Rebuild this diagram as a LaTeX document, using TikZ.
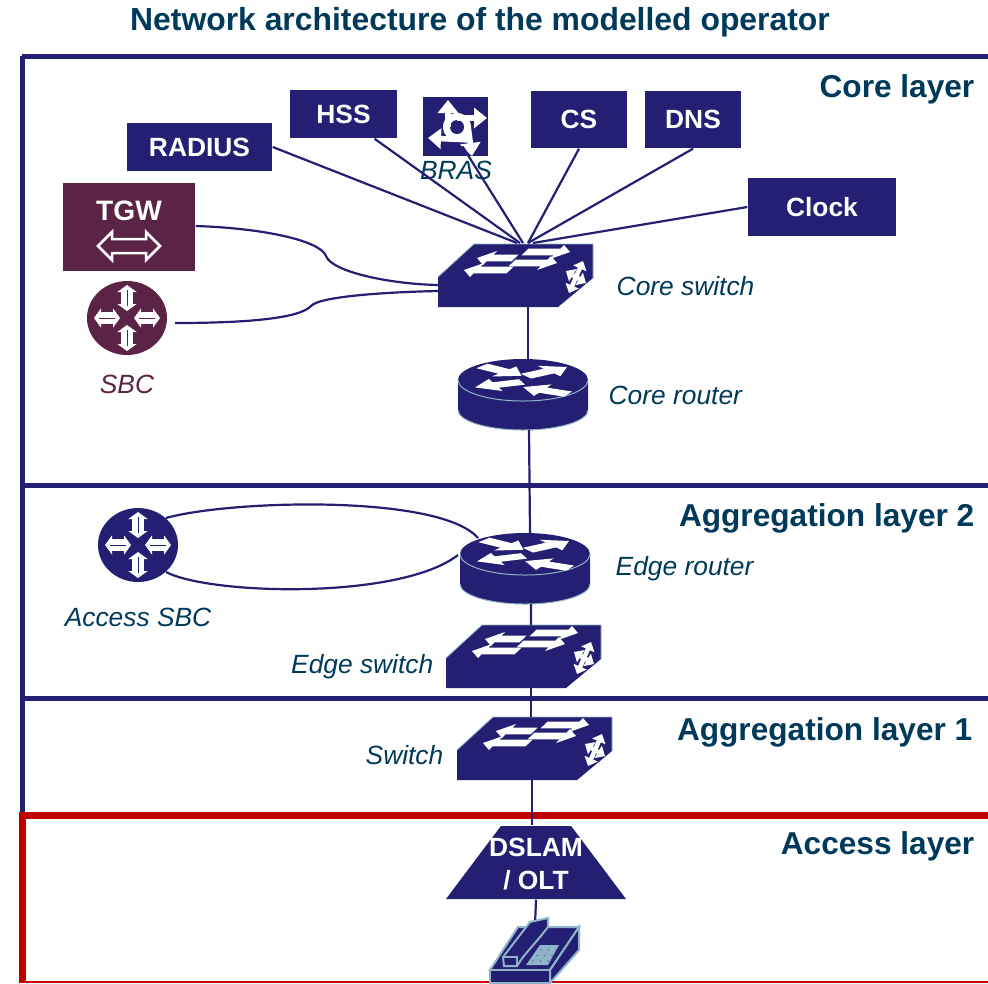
\documentclass[tikz,border=0pt]{standalone}
\usepackage{fontspec}
\setmainfont{Liberation Sans}
\usetikzlibrary{arrows.meta,shapes.geometric}
\definecolor{navydev}{HTML}{241F72}
\definecolor{plumdev}{HTML}{5B2346}
\definecolor{tealtext}{HTML}{003A5A}
\definecolor{redlayer}{HTML}{C00000}
\definecolor{paleedge}{HTML}{8FB3C8}
% slanted arrow on a switch top: tail x, tip x, y, direction
\newcommand{\flatarrow}[4]{
  \fill[white] ({#1-.035},{#3-.034}) -- ({#2-#4*.13-.035},{#3-.034}) -- ({#2-#4*.13-.07},{#3-.07}) -- (#2,#3)
    -- ({#2-#4*.13+.07},{#3+.07}) -- ({#2-#4*.13+.035},{#3+.034}) -- ({#1+.035},{#3+.034}) -- cycle;
}
\tikzset{
  wire/.style={navydev,line width=.022cm},
  layerline/.style={navydev,line width=.05cm},
  accessline/.style={redlayer,line width=.07cm},
  devbox/.style={fill=navydev,text=white,font=\fontsize{7.5}{9}\selectfont\bfseries,inner sep=0pt},
  layerlabel/.style={text=tealtext,anchor=east,font=\fontsize{9}{11}\selectfont\bfseries,inner sep=0pt},
  devlabel/.style={text=tealtext,font=\fontsize{7.5}{9}\selectfont\itshape,inner sep=0pt},
  flow/.style={white,line width=.055cm,-{Triangle[length=.13cm,width=.2cm]}},
  smallflow/.style={white,line width=.045cm,{Triangle[length=.08cm,width=.14cm]}-{Triangle[length=.08cm,width=.14cm]}},
  pics/switchicon/.style={code={
    \fill[navydev] (0,0) -- (1.20,0) -- (1.55,.29) -- (1.55,.63) -- (.36,.63) -- (0,.30) -- cycle;
    \draw[paleedge,line width=.008cm] (0,.30) -- (.36,.63) -- (1.55,.63) -- (1.55,.29);
    \flatarrow{.87}{1.32}{.55}{1}
    \flatarrow{.77}{.39}{.49}{-1}
    \flatarrow{.74}{1.19}{.44}{1}
    \flatarrow{.72}{.26}{.37}{-1}
    \draw[smallflow] (1.31,.14) -- (1.45,.46);
    \draw[smallflow] (1.28,.36) -- (1.48,.24);
    \coordinate (-top) at (#1,.63);
    \coordinate (-bot) at (#1,0);
    \coordinate (-wa) at (0,.22);
    \coordinate (-wb) at (0,.16);
  }},
  pics/routericon/.style={code={
    \fill[navydev] (-.65,0) -- (-.65,-.30) arc[start angle=180,end angle=360,x radius=.65,y radius=.20] -- (.65,0) -- cycle;
    \draw[paleedge,line width=.01cm] (-.65,-.30) arc[start angle=180,end angle=360,x radius=.65,y radius=.20];
    \fill[navydev] (0,0) ellipse[x radius=.65,y radius=.21];
    \draw[paleedge,line width=.01cm] (-.65,0) arc[start angle=180,end angle=360,x radius=.65,y radius=.21];
    \foreach \x/\y/\a in {.03/.12/35,-.41/.44/-38,-.01/-.06/200,.45/-.44/154}{
      \fill[white,yscale=.32,shift={(\x,\y)},rotate=\a] (0,-.09) -- (.28,-.09) -- (.28,-.20) -- (.50,0) -- (.28,.20) -- (.28,.09) -- (0,.09) -- cycle;
    }
    \coordinate (-top) at (.05,.21);
    \coordinate (-bot) at (.06,-.50);
    \coordinate (-nw) at (-.47,.16);
    \coordinate (-w) at (-.67,-.01);
  }},
  pics/sbcicon/.style={code={
    \fill[#1] (0,0) ellipse[x radius=.40,y radius=.37];
    \foreach \a in {0,90,180,270}{
      \draw[white,line width=.12cm,rotate=\a,{Triangle[length=.07cm,width=.19cm]}-{Triangle[length=.07cm,width=.19cm]}] (.07,0) -- (.33,0);
      \draw[#1,line width=.004cm,rotate=\a] (.12,0) -- (.28,0);
    }
    \coordinate (-east) at (.48,-.05);
    \coordinate (-ne) at (.28,.27);
    \coordinate (-se) at (.28,-.27);
  }},
}
\begin{document}
\begin{tikzpicture}
  \useasboundingbox (0,0) rectangle (9.88,9.83);

  % title
  \node[text=tealtext,font=\fontsize{9.07}{11}\selectfont\bfseries,inner sep=0pt] (title) at (4.80,9.61) {Network architecture of the modelled operator};

  % layer lines
  \draw[layerline] (.22,9.27) -- (9.88,9.27);
  \draw[layerline] (.22,9.27) -- (.22,1.68);
  \draw[layerline] (.22,4.98) -- (9.88,4.98);
  \draw[layerline] (.22,2.85) -- (9.88,2.85);
  \draw[accessline] (9.88,1.68) -- (.22,1.68) -- (.22,0);
  \draw[redlayer,line width=.02cm] (.22,.01) -- (9.88,.01);

  % layer labels
  \node[layerlabel] (corelabel) at (9.75,8.94) {Core layer};
  \node[layerlabel] (agglabelb) at (9.75,4.65) {Aggregation layer 2};
  \node[layerlabel] (agglabela) at (9.73,2.51) {Aggregation layer 1};
  \node[layerlabel] (accesslabel) at (9.75,1.37) {Access layer};

  % servers
  \node[devbox,minimum width=1.45cm,minimum height=.48cm] (radius) at (1.995,8.36) {RADIUS};
  \node[devbox,minimum width=1.07cm,minimum height=.48cm] (hss) at (3.435,8.69) {HSS};
  \node[devbox,minimum width=.96cm,minimum height=.57cm] (cs) at (5.79,8.635) {CS};
  \node[devbox,minimum width=.96cm,minimum height=.57cm] (dns) at (6.93,8.635) {DNS};
  \node[devbox,minimum width=1.48cm,minimum height=.58cm] (clock) at (8.22,7.76) {Clock};

  % BRAS
  \node[devbox,minimum width=.65cm,minimum height=.59cm] (bras) at (4.555,8.565) {};
  \fill[white] (4.57,8.56) circle (.14);
  \fill[navydev] (4.57,8.56) circle (.07);
  \draw[flow] (4.48,8.56) -- (4.48,8.83);
  \draw[flow] (4.57,8.65) -- (4.87,8.65);
  \draw[flow] (4.70,8.43) -- (4.28,8.45);
  \draw[flow] (4.68,8.58) -- (4.72,8.27);
  \node[devlabel] (braslabel) at (4.56,8.13) {BRAS};

  % TGW and SBC
  \node[fill=plumdev,minimum width=1.32cm,minimum height=.88cm,inner sep=0pt] (tgw) at (1.29,7.56) {};
  \node[text=white,font=\fontsize{8}{10}\selectfont\bfseries,inner sep=0pt] (tgwlabel) at (1.29,7.72) {TGW};
  \draw[white,line width=.025cm,fill=plumdev] (.98,7.37) -- (1.12,7.51) -- (1.12,7.44) -- (1.46,7.44) -- (1.46,7.51) -- (1.60,7.37) -- (1.46,7.23) -- (1.46,7.30) -- (1.12,7.30) -- (1.12,7.23) -- cycle;
  \pic (sbc) at (1.27,6.65) {sbcicon=plumdev};
  \node[devlabel,text=plumdev] (sbclabel) at (1.27,5.99) {SBC};

  % central chain
  \pic (coresw) at (4.38,6.76) {switchicon=.90};
  \node[devlabel,anchor=west] (coreswlabel) at (6.16,6.97) {Core switch};
  \pic (corert) at (5.23,6.03) {routericon};
  \node[devlabel,anchor=west] (corertlabel) at (6.08,5.88) {Core router};
  \pic (edgert) at (5.25,4.29) {routericon};
  \node[devlabel,anchor=west] (edgertlabel) at (6.15,4.14) {Edge router};
  \pic (edgesw) at (4.46,2.95) {switchicon=.85};
  \node[devlabel,anchor=east] (edgeswlabel) at (4.34,3.16) {Edge switch};
  \pic (accesssw) at (4.57,2.03) {switchicon=.75};
  \node[devlabel,anchor=east] (accessswlabel) at (4.44,2.28) {Switch};
  \pic (accsbc) at (1.38,4.38) {sbcicon=navydev};
  \node[devlabel] (accsbclabel) at (1.38,3.66) {Access SBC};

  % DSLAM
  \node[trapezium,trapezium stretches=true,trapezium left angle=52,trapezium right angle=52,fill=navydev,minimum width=1.80cm,minimum height=.73cm,inner sep=1pt] (dslam) at (5.36,1.205) {};
  \node[text=white,align=center,font=\fontsize{7.5}{9.2}\selectfont\bfseries,inner sep=0pt] (dslamlabel) at (5.36,1.19) {DSLAM\\/ OLT};

  % connectors
  \coordinate (hub) at (5.25,7.40);
  \draw[wire] (radius.east) -- ([xshift=-.08cm]hub);
  \draw[wire] ([xshift=.31cm]hss.south) -- ([xshift=-.05cm]hub);
  \draw[wire] ([xshift=.07cm,yshift=-.20cm]bras.center) -- ([xshift=-.02cm]hub);
  \draw[wire] (cs.south) -- ([xshift=.03cm]hub);
  \draw[wire] (dns.south) -- ([xshift=.03cm]hub);
  \draw[wire] (clock.west) -- ([xshift=.08cm]hub);
  \draw[wire] (tgw.east |- 0,7.57) .. controls (2.60,7.55) and (3.20,7.43) .. (3.26,7.27) .. controls (3.32,7.11) and (3.90,6.99) .. (coresw-wa);
  \draw[wire] (sbc-east) .. controls (2.50,6.60) and (3.00,6.65) .. (3.11,6.77) .. controls (3.20,6.87) and (3.90,6.91) .. (coresw-wb);
  \draw[wire] (coresw-bot) -- (corert-top);
  \draw[wire] (corert-bot) -- (edgert-top);
  \draw[wire] (edgert-bot) -- (edgesw-top);
  \draw[wire] (edgesw-bot) -- (edgesw-bot |- accesssw-top);
  \draw[wire] (accesssw-bot) -- (accesssw-bot |- dslam.north);
  \draw[wire] (accsbc-ne) .. controls (2.30,4.83) and (4.40,4.89) .. (edgert-nw);
  \draw[wire] (accsbc-se) .. controls (2.10,3.88) and (4.00,3.83) .. (edgert-w);
  \coordinate (phonetop) at (5.35,.58);
  \draw[wire] (dslam.south) -- (phonetop);

  % phone
  \draw[paleedge,line width=.02cm,fill=navydev] (4.90,.13) -- (5.18,.56) -- (5.79,.56) -- (5.50,.13) -- cycle;
  \draw[paleedge,line width=.02cm,fill=navydev] (5.79,.56) -- (5.79,.33) -- (5.50,0) -- (5.50,.13) -- cycle;
  \draw[paleedge,line width=.02cm,fill=navydev] (4.90,.13) rectangle (5.50,0);
  \draw[paleedge,line width=.02cm,fill=navydev] (5.03,.26) -- (5.30,.61) -- (5.48,.65) -- (5.48,.56) -- (5.40,.46) -- (5.23,.26) -- (5.17,.17) -- (5.04,.17) -- cycle;
  \draw[paleedge,line width=.012cm] (5.04,.26) -- (5.17,.26) -- (5.17,.17);
  \fill[paleedge] (5.26,.18) -- (5.40,.38) -- (5.59,.38) -- (5.48,.18) -- cycle;
  \foreach \i in {0,1,2}{
    \foreach \j in {0,1,2}{
      \fill[navydev!70] (5.33+\i*.075+\j*.04,.22+\j*.055) circle (.008);
    }
  }
\end{tikzpicture}
\end{document}
